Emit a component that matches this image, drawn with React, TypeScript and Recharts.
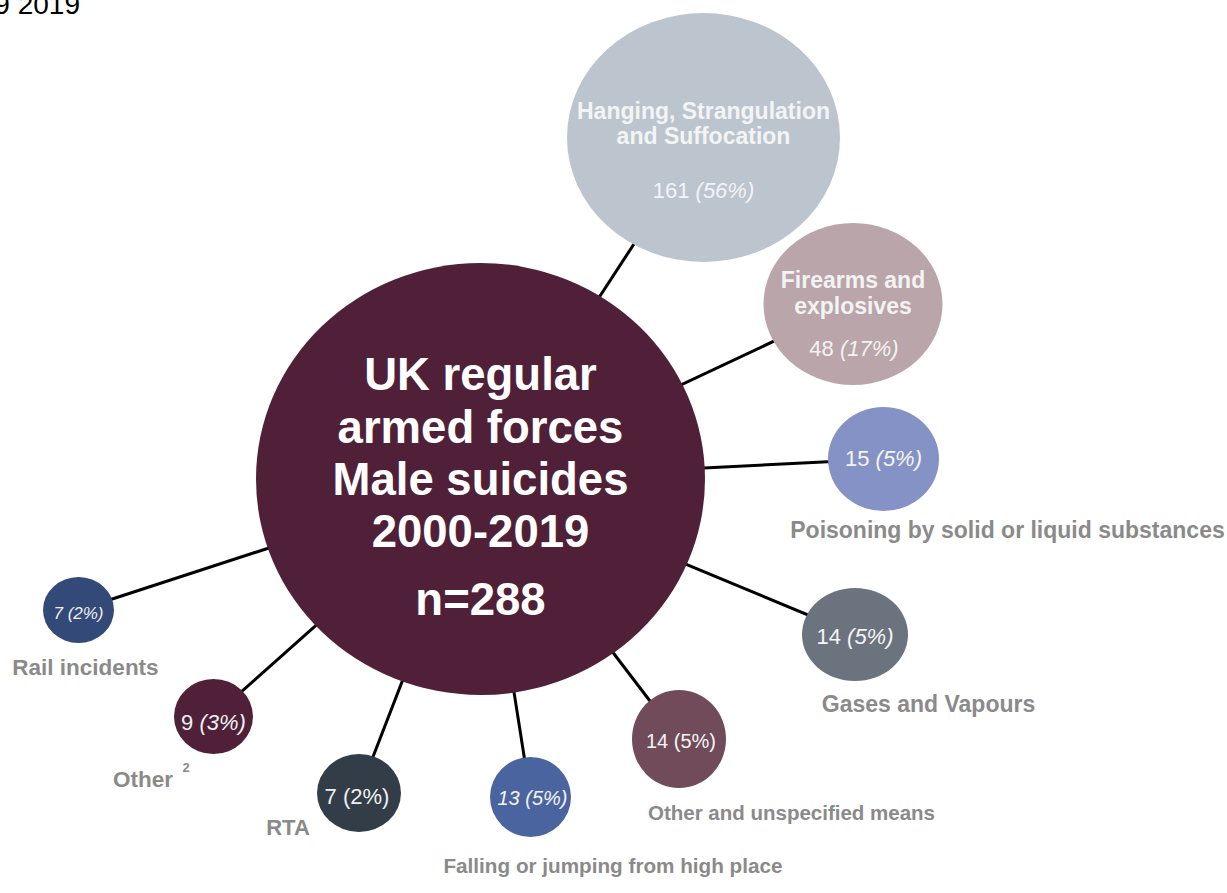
import React from "react";
import { ScatterChart, Scatter, XAxis, YAxis } from "recharts";

// ---------- data ----------
const categories = [
  "Hanging, Strangulation and Suffocation",
  "Firearms and explosives",
  "Poisoning by solid or liquid substances",
  "Gases and Vapours",
  "Other and unspecified means",
  "Falling or jumping from high place",
  "RTA",
  "Other",
  "Rail incidents",
];
const counts = [161, 48, 15, 14, 14, 13, 7, 9, 7];
const percents = [56, 17, 5, 5, 5, 5, 2, 3, 2];
const total = 288;
const centreTitle = ["UK regular", "armed forces", "Male suicides", "2000-2019"];
const headerFragment = "9 2019";

// ---------- layout (positions in plot units, sizes, styles) ----------
const W = 1227;
const H = 893;
const FONT = "'Liberation Sans', Arial, Helvetica, sans-serif";
const LABEL_GREY = "#8a8a8a";

const centreLayout = { x: 480.5, y: 479, rx: 224.5, ry: 216, fill: "#4f2038" };

type Layout = {
  x: number; y: number; rx: number; ry: number; fill: string;
  inside: string[] | null;
  insideDy: number[];
  valueDx: number; valueDy: number; valueSize: number;
  italic: "pct" | "all" | "none";
  outDx: number; outDy: number; labelSize: number; sup?: string;
  textColor: string;
};

const layout: Layout[] = [
  { x: 703.5, y: 137.5, rx: 136.5, ry: 124.5, fill: "#bcc5cd", inside: ["Hanging, Strangulation", "and Suffocation"], insideDy: [-18.5, 6.5], valueDx: 0, valueDy: 60.5, valueSize: 22, italic: "pct", outDx: 0, outDy: 0, labelSize: 23, textColor: "#f3f4f5" },
  { x: 853, y: 304, rx: 89.5, ry: 81, fill: "#b9a5aa", inside: ["Firearms and", "explosives"], insideDy: [-16, 10], valueDx: 1, valueDy: 52, valueSize: 22, italic: "pct", outDx: 0, outDy: 0, labelSize: 23, textColor: "#f3f3f3" },
  { x: 883.5, y: 459, rx: 55.5, ry: 52, fill: "#8592c6", inside: null, insideDy: [], valueDx: 0, valueDy: 7, valueSize: 22, italic: "pct", outDx: 124, outDy: 79, labelSize: 23, textColor: "#f5f5f5" },
  { x: 855, y: 634.5, rx: 53, ry: 46.5, fill: "#6b737f", inside: null, insideDy: [], valueDx: 0, valueDy: 9.5, valueSize: 22, italic: "pct", outDx: 73.5, outDy: 77.5, labelSize: 23, textColor: "#f5f5f5" },
  { x: 679, y: 739, rx: 47, ry: 49, fill: "#724b5a", inside: null, insideDy: [], valueDx: 2, valueDy: 9, valueSize: 20, italic: "none", outDx: 112.5, outDy: 81, labelSize: 20.5, textColor: "#f5f5f5" },
  { x: 530.5, y: 797, rx: 40.5, ry: 40, fill: "#4a64a0", inside: null, insideDy: [], valueDx: 2, valueDy: 8, valueSize: 20, italic: "all", outDx: 82.5, outDy: 76, labelSize: 20.7, textColor: "#f5f5f5" },
  { x: 359, y: 793, rx: 42, ry: 39, fill: "#333d48", inside: null, insideDy: [], valueDx: -2, valueDy: 11, valueSize: 22, italic: "none", outDx: -71, outDy: 42, labelSize: 22, textColor: "#f0f0f0" },
  { x: 213.5, y: 716.5, rx: 39.5, ry: 37.5, fill: "#4f2038", inside: null, insideDy: [], valueDx: 0, valueDy: 13.5, valueSize: 22, italic: "pct", outDx: -70.5, outDy: 70.5, labelSize: 22.5, sup: "2", textColor: "#f0f0f0" },
  { x: 78.5, y: 610, rx: 35.5, ry: 33, fill: "#334a78", inside: null, insideDy: [], valueDx: 0, valueDy: 9, valueSize: 17, italic: "all", outDx: 7, outDy: 65, labelSize: 22.5, textColor: "#f0f0f0" },
];

const bubbles = categories.map((name, i) => ({
  name,
  count: counts[i],
  pct: percents[i],
  ...layout[i],
}));

const centreData = [{ name: "centre", count: total, ...centreLayout }];

// ---------- shapes ----------
const ValueText = (props: { x: number; y: number; count: number; pct: number; italic: string; size: number; color: string }) => {
  const { x, y, count, pct, italic, size, color } = props;
  return (
    <text x={x} y={y} textAnchor="middle" fontFamily={FONT} fontSize={size} fill={color} fontStyle={italic === "all" ? "italic" : "normal"}>
      {`${count} `}
      <tspan fontStyle={italic === "none" ? "normal" : "italic"}>{`(${pct}%)`}</tspan>
    </text>
  );
};

const BubbleShape = (props: any) => {
  const { cx, cy, payload } = props;
  if (cx == null || cy == null) return <g />;
  const p = payload;
  return (
    <g>
      <ellipse cx={cx} cy={cy} rx={p.rx} ry={p.ry} fill={p.fill} />
      {p.inside &&
        p.inside.map((line: string, k: number) => (
          <text key={k} x={cx} y={cy + p.insideDy[k]} textAnchor="middle" fontFamily={FONT} fontSize={p.labelSize} fontWeight="bold" fill={p.textColor}>
            {line}
          </text>
        ))}
      <ValueText x={cx + p.valueDx} y={cy + p.valueDy} count={p.count} pct={p.pct} italic={p.italic} size={p.valueSize} color={p.textColor} />
      {!p.inside && (
        <text x={cx + p.outDx} y={cy + p.outDy} textAnchor="middle" fontFamily={FONT} fontSize={p.labelSize} fontWeight="bold" fill={LABEL_GREY}>
          {p.name}
        </text>
      )}
      {p.sup && (
        <text x={cx + p.outDx + 43} y={cy + p.outDy - 15} textAnchor="middle" fontFamily={FONT} fontSize={13} fontWeight="bold" fill={LABEL_GREY}>
          {p.sup}
        </text>
      )}
    </g>
  );
};

const CentreShape = (props: any) => {
  const { cx, cy, payload } = props;
  if (cx == null || cy == null) return <g />;
  const baseDy = [-89, -36, 16, 68];
  return (
    <g>
      <ellipse cx={cx} cy={cy} rx={payload.rx} ry={payload.ry} fill={payload.fill} />
      {centreTitle.map((line, k) => (
        <text key={k} x={cx} y={cy + baseDy[k]} textAnchor="middle" fontFamily={FONT} fontSize={45.5} fontWeight="bold" fill="#ffffff">
          {line}
        </text>
      ))}
      <text x={cx} y={cy + 136} textAnchor="middle" fontFamily={FONT} fontSize={45.5} fontWeight="bold" fill="#ffffff">
        {`n=${payload.count}`}
      </text>
    </g>
  );
};

const NoDot = () => <g />;

export default function App() {
  return (
    <div style={{ position: "absolute", left: 0, top: 0, width: W, height: H, background: "#ffffff" }}>
      <ScatterChart width={W} height={H} margin={{ top: 0, right: 0, bottom: 0, left: 0 }}>
        <XAxis type="number" dataKey="x" domain={[0, W]} hide allowDataOverflow />
        <YAxis type="number" dataKey="y" domain={[0, H]} reversed hide allowDataOverflow />
        {bubbles.map((b, i) => (
          <Scatter
            key={`spoke-${i}`}
            data={[
              { x: centreLayout.x, y: centreLayout.y },
              { x: b.x, y: b.y },
            ]}
            line={{ stroke: "#000000", strokeWidth: 3 }}
            stroke="#000000"
            strokeWidth={3}
            shape={NoDot}
            isAnimationActive={false}
          />
        ))}
        <Scatter data={centreData} shape={CentreShape} isAnimationActive={false} />
        <Scatter data={bubbles} shape={BubbleShape} isAnimationActive={false} />
      </ScatterChart>
      <svg width={200} height={30} style={{ position: "absolute", left: 0, top: 0, overflow: "hidden" }}>
        <text x={80} y={14} textAnchor="end" fontFamily={FONT} fontSize={28} fill="#000000">
          {headerFragment}
        </text>
      </svg>
    </div>
  );
}
